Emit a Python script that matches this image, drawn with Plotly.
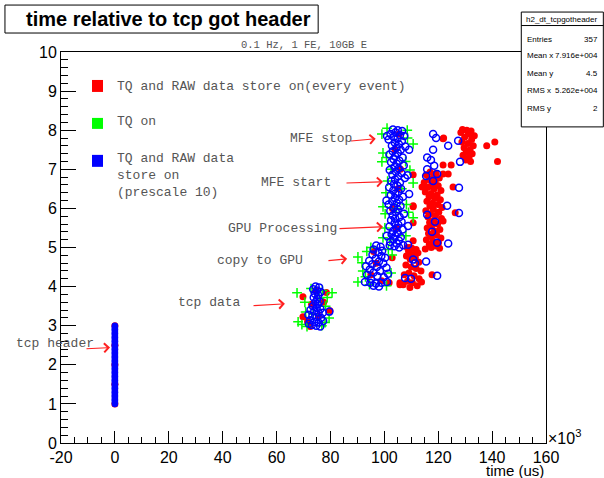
import plotly.graph_objects as go

# ---------------- data (x in units of 10^3 us) ----------------
# tcp header (x = 0) for the prescale-10 series
hdr_x = [0] * 21
hdr_y = [1.0, 1.1, 1.2, 1.3, 1.4, 1.5, 1.6, 1.7, 1.8, 1.9, 2.0,
         2.1, 2.2, 2.3, 2.4, 2.5, 2.6, 2.7, 2.8, 2.9, 3.0]

# Red: TQ and RAW data store on (every event)
red_x = [0, 0, 0, 0, 0,
         69.8, 69.8, 79.8, 78.5, 73.0, 75.5, 71.5, 77.5, 74.5, 72.5,
         97.0, 95.0, 99.0, 102.9, 101.8, 96.0, 105.8,
         104.0, 105.0, 103.0, 106.0, 104.5, 105.5,
         108.5, 110.2, 111.8, 109.0, 112.5, 110.5, 108.2, 111.5, 109.6, 112.8,
         108.0, 110.0, 111.8, 113.6, 109.1, 107.4, 111.0, 112.9, 108.6, 110.4,
         107.0, 112.2, 109.5, 113.8, 117.7, 105.8,
         117.0, 119.2, 115.6, 118.3, 120.4, 116.5, 118.9, 114.8, 117.6, 120.0,
         116.2, 118.5, 121.0, 115.2, 117.4, 119.6, 116.6, 118.8, 120.8, 115.8,
         117.9, 119.9, 116.9, 121.4, 118.2, 115.4, 120.2, 117.1, 119.0, 116.2,
         121.2, 118.4, 116.8, 119.8, 117.6, 115.9, 120.6, 118.6, 116.4, 119.4,
         117.3, 121.0, 115.6, 118.1, 120.1, 116.7, 119.0, 117.4, 115.2, 120.5,
         110.7, 110.7, 114.0, 125.5, 126.3, 121.8, 110.7, 121.8, 124.8, 121.8,
         123.7, 121.8, 110.7, 109.5, 110.7,
         129.0, 130.6, 132.2, 128.4, 131.2, 133.4, 129.8, 132.4, 128.8, 131.0,
         133.0, 129.6, 131.8, 130.4, 132.6, 129.2, 131.4, 130.2, 132.0,
         138.0, 141.0, 142.0, 122.0]
red_y = [1.0, 1.5, 2.0, 2.5, 3.0,
         3.74, 3.23, 3.38, 3.85, 3.55, 3.25, 3.10, 3.60, 3.90, 2.98,
         4.60, 4.30, 4.15, 4.74, 4.10, 4.90, 4.05,
         7.50, 6.50, 6.00, 7.00, 5.50, 7.90,
         5.00, 4.98, 4.95, 4.90, 4.86, 4.82, 4.78, 4.74, 4.70, 4.62,
         4.55, 4.50, 4.46, 4.40, 4.35, 4.30, 4.28, 4.20, 4.14, 4.10,
         4.05, 4.02, 3.98, 4.12, 4.30, 4.10,
         6.93, 6.90, 6.86, 6.82, 6.78, 6.74, 6.70, 6.66, 6.62, 6.58,
         6.54, 6.50, 6.46, 6.42, 6.38, 6.34, 6.30, 6.26, 6.22, 6.18,
         6.14, 6.10, 6.06, 6.02, 5.98, 5.94, 5.90, 5.86, 5.82, 5.78,
         5.74, 5.70, 5.64, 5.60, 5.55, 5.50, 5.46, 5.42, 5.36, 5.32,
         5.28, 5.24, 5.20, 5.16, 5.12, 5.08, 5.04, 5.00, 4.96, 4.98,
         6.86, 6.04, 6.55, 6.55, 5.89, 5.68, 5.17, 7.11, 7.11, 6.88,
         6.88, 7.78, 6.07, 5.00, 5.63,
         8.02, 8.00, 7.98, 7.94, 7.90, 7.86, 7.82, 7.76, 7.70, 7.66,
         7.60, 7.55, 7.50, 7.44, 7.40, 7.36, 7.30, 7.24, 7.20,
         7.60, 7.70, 7.20, 7.80]

# Green: TQ on
grn_x = [67.6, 80.6, 78.8, 72.8, 77.0, 70.5, 78.2, 68.0, 69.4, 78.0,
         71.3, 79.5, 70.8, 76.8, 73.6, 75.9,
         90.2, 91.7, 90.2, 102.9, 93.5, 101.5, 92.0, 102.5, 94.5, 100.8,
         95.0, 93.0,
         99.1, 110.7, 99.5, 100.8, 99.1, 109.5, 110.7, 99.5, 100.3, 110.7,
         99.5, 108.5, 101.0, 107.9, 101.2, 108.2, 100.2, 108.0, 106.5, 102.5,
         104.5, 108.6, 100.6, 109.0, 102.0]
grn_y = [3.84, 3.84, 3.72, 3.95, 3.90, 3.60, 3.50, 3.10, 3.03, 3.08,
         2.98, 3.20, 3.35, 3.00, 3.30, 3.70,
         4.76, 4.61, 4.12, 4.81, 4.90, 4.95, 4.40, 4.35, 4.05, 4.02,
         5.00, 4.25,
         7.90, 7.65, 7.42, 7.30, 7.19, 6.98, 6.65, 6.04, 5.86, 5.76,
         5.25, 8.00, 8.05, 7.20, 6.70, 6.10, 5.50, 5.30, 6.50, 7.00,
         6.00, 7.80, 6.40, 5.90, 5.20]

# Blue: TQ and RAW data store on (prescale 10)
blu_x = [74.5, 75.8, 73.6, 75.0, 76.4, 74.2, 75.5, 73.8, 75.1, 76.0,
         74.4, 75.3, 73.5, 74.9, 76.3, 72.6, 74.0, 75.6, 77.2, 79.6,
         71.8, 73.3, 74.8, 76.5, 72.4, 74.0, 75.6, 77.3, 73.1, 74.7,
         76.2, 72.0,
         97.0, 98.6, 96.0, 99.2, 97.8, 95.6, 98.9, 100.3, 96.8, 94.4,
         98.0, 99.6, 95.5, 93.2, 97.2, 100.8, 94.6, 98.4, 96.0, 101.4,
         93.6, 97.4, 99.8, 95.0, 92.8, 94.8, 96.9, 98.9, 101.0, 96.0,
         98.0,
         103.2, 105.0, 106.6, 104.1, 102.3, 105.8, 107.4, 103.5, 104.9, 101.6,
         106.5, 103.9, 105.4, 102.8, 107.8, 104.5, 106.1, 103.1, 105.0, 101.9,
         104.0, 106.8, 103.4, 105.6, 102.5, 104.6, 107.2, 103.8, 105.3, 102.0,
         104.3, 106.4, 103.0, 105.1, 107.6, 104.0, 102.6, 105.8, 103.6, 104.9,
         101.8, 106.2, 103.3, 105.2, 104.1, 102.4, 106.9, 103.9, 105.5, 102.9,
         104.6, 101.6, 106.0, 103.5, 105.0, 102.2, 104.3, 107.3, 103.1, 105.7,
         104.0, 102.5, 106.4, 103.8, 105.2, 101.9, 104.5, 106.8, 103.2, 105.0,
         102.7, 104.1, 106.1, 103.5, 105.4, 102.2, 104.6, 107.0, 103.8, 105.5,
         101.0, 109.2, 108.6, 100.8, 108.8, 109.2, 108.8, 100.9, 102.0,
         118.1, 119.2, 123.7, 127.4, 118.1, 115.9, 117.3, 128.1, 118.5, 115.9,
         119.6, 115.5, 118.1, 127.7, 123.3, 115.9, 127.7, 118.8, 117.7, 119.6,
         123.7, 110.7, 111.4, 115.5, 119.6, 107.7, 109.9]
blu_y = [4.00, 3.98, 3.93, 3.90, 3.86, 3.82, 3.78, 3.72, 3.68, 3.62,
         3.60, 3.55, 3.50, 3.46, 3.43, 3.40, 3.37, 3.34, 3.33, 3.36,
         3.28, 3.25, 3.22, 3.20, 3.14, 3.10, 3.08, 3.12, 3.02, 3.00,
         2.98, 3.05,
         5.05, 5.02, 4.95, 4.92, 4.88, 4.82, 4.78, 4.74, 4.72, 4.66,
         4.64, 4.60, 4.57, 4.52, 4.50, 4.48, 4.44, 4.40, 4.36, 4.33,
         4.30, 4.27, 4.24, 4.20, 4.12, 4.10, 4.08, 4.10, 4.12, 4.02,
         4.00,
         8.02, 8.00, 7.98, 7.94, 7.90, 7.88, 7.85, 7.82, 7.78, 7.76,
         7.72, 7.68, 7.64, 7.60, 7.58, 7.55, 7.50, 7.46, 7.42, 7.38,
         7.34, 7.30, 7.26, 7.22, 7.18, 7.14, 7.10, 7.06, 7.02, 6.98,
         6.94, 6.90, 6.86, 6.82, 6.78, 6.74, 6.70, 6.66, 6.62, 6.58,
         6.54, 6.50, 6.46, 6.42, 6.38, 6.34, 6.30, 6.26, 6.22, 6.18,
         6.14, 6.10, 6.06, 6.02, 5.98, 5.94, 5.90, 5.86, 5.82, 5.78,
         5.74, 5.70, 5.66, 5.62, 5.58, 5.54, 5.50, 5.46, 5.42, 5.38,
         5.34, 5.30, 5.26, 5.22, 5.18, 5.14, 5.10, 5.06, 5.03, 5.00,
         7.85, 7.50, 6.85, 6.20, 5.55, 6.37, 5.07, 5.30, 5.05,
         7.90, 7.80, 7.60, 7.73, 7.50, 7.30, 7.24, 7.19, 7.09, 7.00,
         6.88, 6.83, 6.70, 6.53, 6.07, 5.84, 5.88, 5.66, 5.40, 5.12,
         5.10, 4.69, 4.60, 4.64, 4.28, 4.22, 4.20]

# arrow annotations: label, arrow tail, arrow head (data units)
notes = ["MFE stop", "MFE start", "GPU Processing", "copy to GPU", "tcp data", "tcp header"]
tail_x = [87.1, 85.4, 82.8, 78.7, 50.9, -11.1]
tail_y = [7.72, 6.65, 5.48, 4.66, 3.51, 2.41]
head_x = [96.8, 99.5, 99.5, 86.2, 63.1, -1.8]
head_y = [7.78, 6.68, 5.53, 4.71, 3.56, 2.44]

legend_labels = ["TQ and RAW data store on(every event)", "TQ on",
                 "TQ and RAW data<br>store on<br>(prescale 10)"]
legend_colors = ["#ff0000", "#00ff00", "#0000ff"]

stats_labels = ["Entries", "Mean x", "Mean y", "RMS x", "RMS y"]
stats_values = ["357", "7.916e+004", "4.5", "5.262e+004", "2"]

x_ticks = [-20, 0, 20, 40, 60, 80, 100, 120, 140, 160]
x_tick_text = ["-20", "0", "20", "40", "60", "80", "100", "120", "140", "160"]
y_ticks = [0, 1, 2, 3, 4, 5, 6, 7, 8, 9, 10]

# ---------------- layout geometry ----------------
W, H = 604, 478
ML, MR, MT, MB = 61, 58.3, 52, 34.5
PW = W - ML - MR
PH = H - MT - MB


def pxx(x):
    return (x - ML) / PW


def pxy(y):
    return (H - MB - y) / PH


# label centres in picture pixels
note_px = [(321, 139), (296, 183), (282, 229), (260, 261), (209, 303), (55, 344)]

MONO = "Liberation Mono, Courier New, monospace"
SANS = "Liberation Sans, Arial, Helvetica, sans-serif"
GREY = "#555555"

fig = go.Figure()
fig.add_trace(go.Scatter(x=red_x, y=red_y, mode="markers",
                         marker=dict(symbol="circle", size=7, color="#ff0000", line=dict(width=0)),
                         name="TQ and RAW data store on(every event)"))
fig.add_trace(go.Scatter(x=grn_x, y=grn_y, mode="markers",
                         marker=dict(symbol="cross-thin", size=7, line=dict(width=1.5, color="#00ff00")),
                         name="TQ on"))
fig.add_trace(go.Scatter(x=hdr_x, y=hdr_y, mode="lines+markers",
                         line=dict(color="#0000ff", width=6.5),
                         marker=dict(symbol="circle", size=6.5, color="#0000ff", line=dict(width=0)),
                         name="tcp header"))
fig.add_trace(go.Scatter(x=blu_x, y=blu_y, mode="markers",
                         marker=dict(symbol="circle-open", size=7, color="#0000ff", line=dict(width=1.5)),
                         name="TQ and RAW data store on (prescale 10)"))

annotations = []
shapes = []

# arrows and labels
for i in range(len(notes)):
    annotations.append(dict(x=head_x[i], y=head_y[i], ax=tail_x[i], ay=tail_y[i],
                            xref="x", yref="y", axref="x", ayref="y", text="",
                            showarrow=True, arrowhead=4, arrowsize=1.6, arrowwidth=1.1,
                            arrowcolor="#ff2020", standoff=0, startstandoff=0))
    annotations.append(dict(x=pxx(note_px[i][0]), y=pxy(note_px[i][1]), xref="paper", yref="paper",
                            text=notes[i], showarrow=False, xanchor="center", yanchor="middle",
                            font=dict(family=MONO, size=13, color=GREY)))

# legend (text + squares)
leg_sq = [(80, 92), (118, 129), (155, 167)]
leg_txt_y = [87, 122, 176]
for i in range(3):
    shapes.append(dict(type="rect", xref="paper", yref="paper",
                       x0=pxx(92), x1=pxx(103), y0=pxy(leg_sq[i][1]), y1=pxy(leg_sq[i][0]),
                       fillcolor=legend_colors[i], line=dict(width=0)))
    annotations.append(dict(x=pxx(115), y=pxy(leg_txt_y[i]), xref="paper", yref="paper",
                            text=legend_labels[i], showarrow=False, align="left",
                            xanchor="left", yanchor="middle",
                            font=dict(family=MONO, size=13, color=GREY)))

# title box
shapes.append(dict(type="rect", xref="paper", yref="paper",
                   x0=pxx(5), x1=pxx(318), y0=pxy(33), y1=pxy(5),
                   fillcolor="white", line=dict(color="black", width=1)))
annotations.append(dict(x=pxx(168), y=pxy(19), xref="paper", yref="paper",
                        text="<b>time relative to tcp got header</b>", showarrow=False,
                        xanchor="center", yanchor="middle",
                        font=dict(family=SANS, size=20, color="black")))

# subtitle
annotations.append(dict(x=pxx(304), y=pxy(45), xref="paper", yref="paper",
                        text="0.1 Hz, 1 FE, 10GB E", showarrow=False,
                        xanchor="center", yanchor="middle",
                        font=dict(family=MONO, size=10.5, color=GREY)))

# stats box
shapes.append(dict(type="rect", xref="paper", yref="paper", layer="above",
                   x0=pxx(521), x1=pxx(603), y0=pxy(127), y1=pxy(12),
                   fillcolor="white", line=dict(color="black", width=1)))
shapes.append(dict(type="line", xref="paper", yref="paper", layer="above",
                   x0=pxx(521), x1=pxx(603), y0=pxy(25.5), y1=pxy(25.5),
                   line=dict(color="black", width=1)))
annotations.append(dict(x=pxx(562), y=pxy(19), xref="paper", yref="paper",
                        text="h2_dt_tcpgotheader", showarrow=False,
                        xanchor="center", yanchor="middle",
                        font=dict(family=SANS, size=8, color="black")))
stats_rows = [39, 56, 73.5, 91, 109]
for i in range(5):
    annotations.append(dict(x=pxx(525), y=pxy(stats_rows[i]), xref="paper", yref="paper",
                            text=stats_labels[i], showarrow=False, xanchor="left", yanchor="middle",
                            font=dict(family=SANS, size=8, color="black")))
    annotations.append(dict(x=pxx(600), y=pxy(stats_rows[i]), xref="paper", yref="paper",
                            text=stats_values[i], showarrow=False, xanchor="right", yanchor="middle",
                            font=dict(family=SANS, size=8, color="black")))

# axis title and exponent
annotations.append(dict(x=1.0, y=pxy(471.5), xref="paper", yref="paper",
                        text="time (us)", showarrow=False, xanchor="right", yanchor="middle",
                        font=dict(family=SANS, size=15, color="black")))
annotations.append(dict(x=pxx(546), y=pxy(437), xref="paper", yref="paper",
                        text="×10<sup>3</sup>", showarrow=False, xanchor="left", yanchor="middle",
                        font=dict(family=SANS, size=16, color="black")))

fig.update_layout(
    width=W, height=H,
    margin=dict(l=ML, r=MR, t=MT, b=MB, pad=0),
    paper_bgcolor="white", plot_bgcolor="white",
    showlegend=False,
    annotations=annotations, shapes=shapes,
    font=dict(family=SANS, size=16, color="black"),
)
fig.update_xaxes(range=[-20, 160], tickvals=x_ticks, ticktext=x_tick_text,
                 ticks="inside", ticklen=11.7,
                 tickwidth=1, tickcolor="black", showline=True, linecolor="black",
                 linewidth=1, mirror=True, showgrid=False, zeroline=False,
                 tickfont=dict(family=SANS, size=16, color="black"),
                 minor=dict(ticks="inside", dtick=5, tick0=0, ticklen=5.9,
                            tickcolor="black", tickwidth=1, showgrid=False))
fig.update_yaxes(range=[0, 10], tickvals=y_ticks, ticks="inside", ticklen=14.5,
                 tickwidth=1, tickcolor="black", showline=True, linecolor="black",
                 linewidth=1, mirror=True, showgrid=False, zeroline=False,
                 tickfont=dict(family=SANS, size=16, color="black"),
                 minor=dict(ticks="inside", dtick=0.2, tick0=0, ticklen=7.3,
                            tickcolor="black", tickwidth=1, showgrid=False))

fig.write_html("out.html")
